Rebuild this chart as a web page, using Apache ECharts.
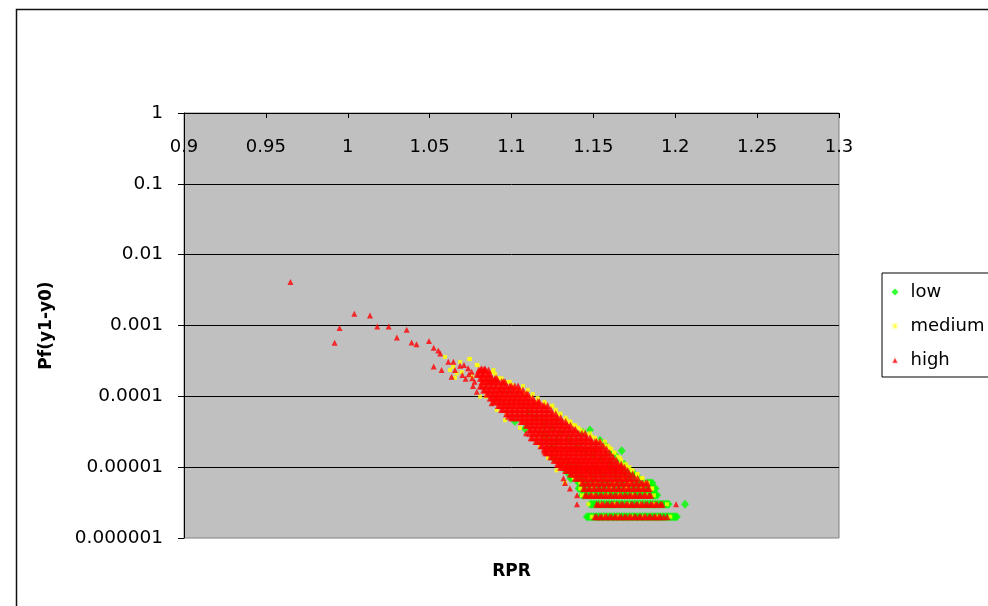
<!DOCTYPE html>
<html>
<head>
<meta charset="utf-8">
<script src="https://cdn.jsdelivr.net/npm/echarts@6/dist/echarts.min.js"></script>
<style>
  html, body { margin: 0; padding: 0; background: #fff; }
  #chart { width: 988px; height: 606px; }
</style>
</head>
<body>
<div id="chart"></div>
<script>
// Series names
const seriesNames = ['low', 'medium', 'high'];

// Tick labels
const xTickLabels = ['0.9', '0.95', '1', '1.05', '1.1', '1.15', '1.2', '1.25', '1.3'];
const yTickLabels = ['0.000001', '0.00001', '0.0001', '0.001', '0.01', '0.1', '1'];

// low: scattered points [RPR, Pf]
const lowPoints = [
  [1.1021, 4.4e-5], [1.1082, 3.5e-5], [1.1194, 3.0e-5], [1.1215, 2.6e-5], [1.1276, 2.4e-5],
  [1.1245, 1.95e-5], [1.1255, 1.35e-5], [1.1266, 1.85e-5], [1.1296, 1.2e-5], [1.1345, 1.1e-5],
  [1.1479, 3.35e-5], [1.1435, 3.1e-5], [1.154, 2.4e-5], [1.1571, 2.06e-5], [1.1602, 1.6e-5],
  [1.1632, 1.5e-5], [1.1673, 1.7e-5], [1.110, 6.0e-5], [1.115, 5.0e-5], [1.120, 4.0e-5],
  [1.125, 3.5e-5], [1.130, 3.0e-5], [1.135, 2.5e-5], [1.140, 2.0e-5], [1.145, 1.7e-5],
  [1.150, 1.5e-5], [1.155, 1.3e-5], [1.160, 1.2e-5], [1.140, 1.1e-5], [1.150, 1.0e-5],
  [1.160, 1.0e-5], [1.165, 1.2e-5], [1.1688, 1.1e-5]
];
// low: level rows [Pf, [RPR...]]
const lowRows = [
  [9e-6, [1.133, 1.140, 1.147, 1.154, 1.161, 1.167, 1.170, 1.172]],
  [8e-6, [1.135, 1.142, 1.149, 1.156, 1.163, 1.169, 1.172, 1.174, 1.175]],
  [7e-6, [1.136, 1.137, 1.139, 1.143, 1.150, 1.157, 1.164, 1.170, 1.173, 1.175, 1.176, 1.177, 1.178]],
  [6e-6, [1.141, 1.142, 1.143, 1.145, 1.148, 1.151, 1.154, 1.157, 1.160, 1.163, 1.166, 1.169, 1.172, 1.175, 1.178, 1.181, 1.183, 1.184, 1.185, 1.186]],
  [5e-6, [1.141, 1.142, 1.143, 1.145, 1.148, 1.151, 1.154, 1.157, 1.160, 1.163, 1.166, 1.169, 1.172, 1.175, 1.178, 1.181, 1.183, 1.184, 1.185, 1.186, 1.187, 1.188]],
  [4e-6, [1.143, 1.144, 1.145, 1.146, 1.147, 1.148, 1.149, 1.150, 1.151, 1.152, 1.153, 1.154, 1.155, 1.156, 1.157, 1.158,
          1.159, 1.160, 1.161, 1.162, 1.163, 1.164, 1.165, 1.166, 1.167, 1.168, 1.169, 1.170, 1.171, 1.172, 1.173, 1.174,
          1.175, 1.176, 1.177, 1.178, 1.179, 1.180, 1.181, 1.182, 1.183, 1.184, 1.185, 1.186, 1.187, 1.188, 1.189]],
  [3e-6, [1.148, 1.149, 1.150, 1.151, 1.152, 1.153, 1.154, 1.155, 1.156, 1.157, 1.158, 1.159, 1.160, 1.161, 1.162, 1.163,
          1.164, 1.165, 1.166, 1.167, 1.168, 1.169, 1.170, 1.171, 1.172, 1.173, 1.174, 1.175, 1.176, 1.177, 1.178, 1.179,
          1.180, 1.181, 1.182, 1.183, 1.184, 1.185, 1.186, 1.187, 1.188, 1.189, 1.190, 1.191, 1.192, 1.193, 1.194, 1.195,
          1.196, 1.206]],
  [2e-6, [1.146, 1.147, 1.148, 1.149, 1.150, 1.151, 1.152, 1.153, 1.154, 1.155, 1.156, 1.157, 1.158, 1.159, 1.160, 1.161,
          1.162, 1.163, 1.164, 1.165, 1.166, 1.167, 1.168, 1.169, 1.170, 1.171, 1.172, 1.173, 1.174, 1.175, 1.176, 1.177,
          1.178, 1.179, 1.180, 1.181, 1.182, 1.183, 1.184, 1.185, 1.186, 1.187, 1.188, 1.189, 1.190, 1.191, 1.192, 1.193,
          1.194, 1.195, 1.196, 1.197, 1.198, 1.199, 1.200, 1.201]]
];

// medium: scattered points
const mediumPoints = [
  [1.0594, 3.6e-4], [1.0643, 2.6e-4], [1.0665, 2.1e-4], [1.0696, 2.2e-4], [1.0747, 3.35e-4],
  [1.0794, 2.74e-4], [1.0757, 1.9e-4], [1.0808, 9.9e-5], [1.0844, 9.9e-5], [1.091, 6.4e-5],
  [1.0971, 5.5e-5], [1.1154, 2.4e-5], [1.0887, 2.2e-4], [1.0948, 1.6e-4], [1.0979, 1.6e-4],
  [1.1021, 1.3e-4], [1.1082, 1.12e-4], [1.1123, 9.9e-5], [1.1162, 8.4e-5], [1.1245, 7.2e-5],
  [1.1296, 5.5e-5], [1.1337, 4.6e-5], [1.1377, 3.95e-5], [1.1435, 3.2e-5], [1.149, 2.7e-5],
  [1.154, 2.3e-5], [1.1602, 1.85e-5], [1.165, 1.1e-5], [1.1681, 1.1e-5], [1.0686, 3.06e-4],
  [1.0742, 3.37e-4], [1.0788, 2.78e-4], [1.0624, 2.36e-4], [1.0655, 1.82e-4], [1.0856, 2.0e-4],
  [1.0918, 1.82e-4], [1.1003, 1.45e-4], [1.1052, 1.23e-4], [1.1205, 7.8e-5], [1.1272, 6.0e-5],
  [1.1357, 4.35e-5], [1.1406, 3.6e-5], [1.1461, 2.9e-5], [1.1516, 2.4e-5], [1.1571, 2.0e-5],
  [1.1626, 1.6e-5], [1.1663, 1.35e-5], [1.1706, 1.0e-5], [1.1731, 9e-6], [1.1767, 8e-6],
  [1.1797, 7e-6], [1.1834, 6e-6], [1.1858, 5e-6], [1.1275, 9e-6], [1.1327, 6e-6],
  [1.1223, 1.35e-5], [1.1174, 2.0e-5], [1.1052, 3.6e-5], [1.096, 4.6e-5],
  [1.089, 2.35e-4], [1.090, 2.05e-4], [1.094, 1.8e-4], [1.099, 1.6e-4], [1.107, 1.4e-4],
  [1.110, 1.23e-4], [1.113, 1.08e-4], [1.116, 9.5e-5], [1.120, 8.4e-5], [1.125, 7.4e-5],
  [1.127, 6.5e-5], [1.130, 5.7e-5], [1.133, 5.0e-5], [1.136, 4.4e-5], [1.139, 3.9e-5],
  [1.142, 3.4e-5], [1.148, 3.0e-5], [1.151, 2.6e-5], [1.157, 2.3e-5], [1.159, 2.0e-5],
  [1.161, 1.8e-5], [1.163, 1.6e-5], [1.165, 1.4e-5], [1.167, 1.25e-5], [1.170, 1.1e-5],
  [1.172, 1.0e-5], [1.174, 9e-6], [1.177, 8e-6], [1.180, 7e-6]
];
// medium: level rows
const mediumRows = [
  [7e-6, [1.138, 1.148, 1.158, 1.168, 1.177]],
  [6e-6, [1.142, 1.152, 1.162, 1.172, 1.182]],
  [5e-6, [1.142, 1.150, 1.160, 1.170, 1.180, 1.186]],
  [4e-6, [1.143, 1.150, 1.158, 1.166, 1.174, 1.182, 1.187]],
  [3e-6, [1.147, 1.155, 1.163, 1.171, 1.179, 1.187, 1.195]],
  [2e-6, [1.149, 1.157, 1.165, 1.173, 1.181, 1.189, 1.197]]
];

// high: scattered points
const highPoints = [
  [0.965, 0.0041], [0.992, 0.00057], [0.995, 0.00092], [1.004, 0.00146], [1.0136, 0.00138],
  [1.018, 0.00097], [1.025, 0.00097], [1.030, 0.000675], [1.036, 0.00087], [1.039, 0.000574],
  [1.042, 0.000545], [1.0496, 0.000606], [1.0525, 0.000487], [1.0553, 0.000442], [1.0565, 0.000401],
  [1.0525, 0.000263], [1.0573, 0.000236], [1.0614, 0.000309], [1.0645, 0.000309], [1.0634, 0.000189],
  [1.0655, 0.000236], [1.0686, 0.00027], [1.071, 0.000278], [1.072, 0.000177], [1.0757, 0.000222],
  [1.0818, 0.00025], [1.0838, 0.00025], [1.0826, 0.0002], [1.0869, 0.000161], [1.0788, 0.000116],
  [1.0879, 0.00008], [1.091, 0.000094], [1.090, 0.000172], [1.093, 0.000123], [1.1089, 0.00003],
  [1.120, 0.0000166], [1.1296, 0.0000107], [1.098, 0.0000517], [1.1357, 0.000005], [1.140, 0.000003],
  [1.1317, 0.000007], [1.2005, 0.000003], [1.140, 0.000004], [1.1327, 0.000006],
  [1.074, 0.000205], [1.076, 0.00018], [1.0775, 0.00016], [1.0765, 0.00014], [1.070, 0.0002],
  [1.0735, 0.00025]
];
// high: level rows
const highRows = [
  [2.35e-4, [1.080, 1.081, 1.083, 1.084, 1.086]],
  [2.05e-4, [1.079, 1.080, 1.082, 1.083, 1.085, 1.086, 1.087]],
  [1.8e-4, [1.081, 1.082, 1.084, 1.085, 1.087, 1.088, 1.090, 1.091]],
  [1.6e-4, [1.082, 1.083, 1.085, 1.086, 1.088, 1.089, 1.091, 1.092, 1.094, 1.095, 1.096]],
  [1.4e-4, [1.081, 1.082, 1.084, 1.085, 1.087, 1.088, 1.090, 1.091, 1.093, 1.094, 1.096, 1.097, 1.099, 1.100, 1.102, 1.104]],
  [1.23e-4, [1.083, 1.084, 1.086, 1.087, 1.089, 1.090, 1.092, 1.093, 1.095, 1.096, 1.098, 1.099, 1.101, 1.102, 1.104, 1.105, 1.107]],
  [1.08e-4, [1.085, 1.086, 1.088, 1.089, 1.091, 1.092, 1.094, 1.095, 1.097, 1.098, 1.100, 1.101, 1.103, 1.104, 1.106, 1.107, 1.109, 1.110]],
  [9.5e-5, [1.087, 1.088, 1.090, 1.091, 1.093, 1.094, 1.096, 1.097, 1.099, 1.100, 1.102, 1.103, 1.105, 1.106, 1.108, 1.109, 1.111, 1.113]],
  [8.4e-5, [1.089, 1.090, 1.092, 1.093, 1.095, 1.096, 1.098, 1.099, 1.101, 1.102, 1.104, 1.105, 1.107, 1.108, 1.110, 1.111, 1.113, 1.114, 1.116, 1.117]],
  [7.4e-5, [1.092, 1.093, 1.095, 1.096, 1.098, 1.099, 1.101, 1.102, 1.104, 1.105, 1.107, 1.108, 1.110, 1.111, 1.113, 1.114, 1.116, 1.117, 1.119, 1.120, 1.122]],
  [6.5e-5, [1.094, 1.095, 1.097, 1.098, 1.100, 1.101, 1.103, 1.104, 1.106, 1.107, 1.109, 1.110, 1.112, 1.113, 1.115, 1.116, 1.118, 1.119, 1.121, 1.122, 1.124]],
  [5.7e-5, [1.097, 1.098, 1.100, 1.101, 1.103, 1.104, 1.106, 1.107, 1.109, 1.110, 1.112, 1.113, 1.115, 1.116, 1.118, 1.119, 1.121, 1.122, 1.124, 1.125, 1.127]],
  [5.0e-5, [1.100, 1.101, 1.103, 1.104, 1.106, 1.107, 1.109, 1.110, 1.112, 1.113, 1.115, 1.116, 1.118, 1.119, 1.121, 1.122, 1.124, 1.125, 1.127, 1.128, 1.130]],
  [4.4e-5, [1.106, 1.107, 1.109, 1.110, 1.112, 1.113, 1.115, 1.116, 1.118, 1.119, 1.121, 1.122, 1.124, 1.125, 1.127, 1.128, 1.130, 1.131, 1.133]],
  [3.9e-5, [1.109, 1.110, 1.112, 1.113, 1.115, 1.116, 1.118, 1.119, 1.121, 1.122, 1.124, 1.125, 1.127, 1.128, 1.130, 1.131, 1.133, 1.134, 1.136]],
  [3.4e-5, [1.111, 1.112, 1.114, 1.115, 1.117, 1.118, 1.120, 1.121, 1.123, 1.124, 1.126, 1.127, 1.129, 1.130, 1.132, 1.133, 1.135, 1.136, 1.138, 1.139]],
  [3.0e-5, [1.111, 1.113, 1.114, 1.116, 1.117, 1.119, 1.120, 1.122, 1.123, 1.125, 1.126, 1.128, 1.129, 1.131, 1.132, 1.134, 1.135, 1.137, 1.138, 1.140, 1.141, 1.143, 1.145]],
  [2.6e-5, [1.112, 1.113, 1.115, 1.116, 1.118, 1.119, 1.121, 1.122, 1.124, 1.125, 1.127, 1.128, 1.130, 1.131, 1.133, 1.134, 1.136, 1.137, 1.139, 1.140, 1.142, 1.143, 1.145, 1.146, 1.148]],
  [2.3e-5, [1.115, 1.116, 1.118, 1.119, 1.121, 1.122, 1.124, 1.125, 1.127, 1.128, 1.130, 1.131, 1.133, 1.134, 1.136, 1.137, 1.139, 1.140, 1.142, 1.143, 1.145, 1.146, 1.148, 1.149, 1.151, 1.152, 1.154]],
  [2.0e-5, [1.118, 1.119, 1.121, 1.122, 1.124, 1.125, 1.127, 1.128, 1.130, 1.131, 1.133, 1.134, 1.136, 1.137, 1.139, 1.140, 1.142, 1.143, 1.145, 1.146, 1.148, 1.149, 1.151, 1.152, 1.154, 1.156]],
  [1.8e-5, [1.120, 1.121, 1.123, 1.124, 1.126, 1.127, 1.129, 1.130, 1.132, 1.133, 1.135, 1.136, 1.138, 1.139, 1.141, 1.142, 1.144, 1.145, 1.147, 1.148, 1.150, 1.151, 1.153, 1.154, 1.156, 1.158]],
  [1.6e-5, [1.121, 1.122, 1.124, 1.125, 1.127, 1.128, 1.130, 1.131, 1.133, 1.134, 1.136, 1.137, 1.139, 1.140, 1.142, 1.143, 1.145, 1.146, 1.148, 1.149, 1.151, 1.152, 1.154, 1.155, 1.157, 1.158, 1.160]],
  [1.4e-5, [1.124, 1.125, 1.127, 1.128, 1.130, 1.131, 1.133, 1.134, 1.136, 1.137, 1.139, 1.140, 1.142, 1.143, 1.145, 1.146, 1.148, 1.149, 1.151, 1.152, 1.154, 1.155, 1.157, 1.158, 1.160, 1.162]],
  [1.25e-5, [1.126, 1.127, 1.129, 1.130, 1.132, 1.133, 1.135, 1.136, 1.138, 1.139, 1.141, 1.142, 1.144, 1.145, 1.147, 1.148, 1.150, 1.151, 1.153, 1.154, 1.156, 1.157, 1.159, 1.160, 1.162, 1.164]],
  [1.1e-5, [1.128, 1.129, 1.131, 1.132, 1.134, 1.135, 1.137, 1.138, 1.140, 1.141, 1.143, 1.144, 1.146, 1.147, 1.149, 1.150, 1.152, 1.153, 1.155, 1.156, 1.158, 1.159, 1.161, 1.162, 1.164, 1.165, 1.167]],
  [1.0e-5, [1.130, 1.131, 1.133, 1.134, 1.136, 1.137, 1.139, 1.140, 1.142, 1.143, 1.145, 1.146, 1.148, 1.149, 1.151, 1.152, 1.154, 1.155, 1.157, 1.158, 1.160, 1.161, 1.163, 1.164, 1.166, 1.167, 1.169]],
  [9e-6, [1.133, 1.134, 1.136, 1.137, 1.139, 1.140, 1.142, 1.143, 1.145, 1.146, 1.148, 1.149, 1.151, 1.152, 1.154, 1.155, 1.157, 1.158, 1.160, 1.161, 1.163, 1.164, 1.166, 1.167, 1.169, 1.171]],
  [8e-6, [1.136, 1.137, 1.139, 1.140, 1.142, 1.143, 1.145, 1.146, 1.148, 1.149, 1.151, 1.152, 1.154, 1.155, 1.157, 1.158, 1.160, 1.161, 1.163, 1.164, 1.166, 1.167, 1.169, 1.170, 1.172, 1.174]],
  [7e-6, [1.139, 1.140, 1.142, 1.143, 1.145, 1.146, 1.148, 1.149, 1.151, 1.152, 1.154, 1.155, 1.157, 1.158, 1.160, 1.161, 1.163, 1.164, 1.166, 1.167, 1.169, 1.170, 1.172, 1.173, 1.175, 1.177]],
  [6e-6, [1.143, 1.144, 1.146, 1.147, 1.149, 1.150, 1.152, 1.153, 1.155, 1.156, 1.158, 1.159, 1.161, 1.162, 1.164, 1.165, 1.167, 1.168, 1.170, 1.171, 1.173, 1.174, 1.176, 1.177, 1.179, 1.180, 1.182, 1.183]],
  [5e-6, [1.144, 1.145, 1.147, 1.148, 1.150, 1.151, 1.153, 1.154, 1.156, 1.157, 1.159, 1.160, 1.162, 1.163, 1.165, 1.166, 1.168, 1.169, 1.171, 1.172, 1.174, 1.175, 1.177, 1.178, 1.180, 1.181, 1.183, 1.184]],
  [4e-6, [1.145, 1.146, 1.148, 1.149, 1.151, 1.152, 1.154, 1.155, 1.157, 1.158, 1.160, 1.161, 1.163, 1.164, 1.166, 1.167, 1.169, 1.170, 1.172, 1.173, 1.175, 1.176, 1.178, 1.179, 1.181, 1.182, 1.184, 1.185]],
  [3e-6, [1.152, 1.153, 1.155, 1.156, 1.158, 1.159, 1.161, 1.162, 1.164, 1.165, 1.167, 1.168, 1.170, 1.171, 1.173, 1.174, 1.176, 1.177, 1.179, 1.180, 1.182, 1.183, 1.185, 1.186, 1.188, 1.189, 1.191, 1.192]],
  [2e-6, [1.151, 1.152, 1.154, 1.155, 1.157, 1.158, 1.160, 1.161, 1.163, 1.164, 1.166, 1.167, 1.169, 1.170, 1.172, 1.173, 1.175, 1.176, 1.178, 1.179, 1.181, 1.182, 1.184, 1.185, 1.187, 1.188, 1.190, 1.191, 1.193, 1.195]]
];

// Expand a level row into [x, y] pairs
function rowsToPairs(rows) {
  const out = [];
  rows.forEach(([y, xs]) => xs.forEach(x => out.push([x, y])));
  return out;
}

const FONT = 'DejaVu Sans';
const highData = highPoints.concat(rowsToPairs(highRows));

const chart = echarts.init(document.getElementById('chart'), null, { renderer: 'canvas' });

chart.setOption({
  animation: false,
  backgroundColor: '#ffffff',
  textStyle: { fontFamily: FONT, color: '#000' },
  grid: {
    left: 184, top: 113, width: 655, height: 425,
    show: true, backgroundColor: '#C0C0C0',
    borderColor: '#808080', borderWidth: 1
  },
  graphic: [{
    type: 'rect', silent: true, z: -1,
    shape: { x: 16.5, y: 9.5, width: 1200, height: 900 },
    style: { fill: 'none', stroke: '#111', lineWidth: 1.5 }
  }],
  legend: {
    orient: 'vertical', left: 882, top: 273,
    padding: [9, 8, 7, 7.5], itemGap: 14,
    itemWidth: 7, itemHeight: 7,
    borderColor: '#000', borderWidth: 1, backgroundColor: '#fff',
    textStyle: { fontFamily: FONT, fontSize: 18, color: '#000', lineHeight: 20, padding: [0, 0, 0, 7] },
    data: [
      { name: 'low' },
      { name: 'medium', itemStyle: { borderColor: '#fff', borderWidth: 4 } },
      { name: 'high', itemStyle: { borderColor: '#fff', borderWidth: 1.5 } }
    ]
  },
  xAxis: [{
    type: 'value', min: 0.9, max: 1.3, interval: 0.05, position: 'top',
    axisLine: { show: true, onZero: false, lineStyle: { color: '#000', width: 1 } },
    axisTick: { show: true, inside: true, length: 5, lineStyle: { color: '#000' } },
    axisLabel: {
      inside: true, margin: 25, color: '#000', fontFamily: FONT, fontSize: 18,
      formatter: v => xTickLabels[Math.round((v - 0.9) / 0.05)]
    },
    splitLine: { show: false }
  }, {
    type: 'value', min: 0.9, max: 1.3, position: 'bottom',
    name: 'RPR', nameLocation: 'middle', nameGap: 25,
    nameTextStyle: { fontFamily: FONT, fontWeight: 'bold', fontSize: 17, color: '#000' },
    axisLine: { show: false }, axisTick: { show: false },
    axisLabel: { show: false }, splitLine: { show: false }
  }],
  yAxis: {
    type: 'log', logBase: 10, min: 1e-6, max: 1, splitNumber: 6,
    name: 'Pf(y1-y0)', nameLocation: 'middle', nameGap: 129, nameRotate: 90,
    nameTextStyle: { fontFamily: FONT, fontWeight: 'bold', fontSize: 17, color: '#000' },
    axisLine: { show: true, onZero: false, lineStyle: { color: '#000', width: 1 } },
    axisTick: { show: true, inside: false, length: 6, lineStyle: { color: '#000' } },
    axisLabel: {
      margin: 21, color: '#000', fontFamily: FONT, fontSize: 18.5,
      formatter: v => yTickLabels[Math.round(Math.log10(v)) + 6]
    },
    splitLine: { show: true, showMinLine: false, lineStyle: { color: '#000', width: 1 } }
  },
  series: [{
    name: 'low', type: 'scatter', xAxisIndex: 0,
    symbol: 'diamond', symbolSize: [8, 9],
    itemStyle: { color: '#00FF00' },
    data: lowPoints.concat(rowsToPairs(lowRows))
  }, {
    name: 'medium', type: 'scatter', xAxisIndex: 0,
    symbol: 'rect', symbolSize: 4,
    itemStyle: { color: '#FFFF00' },
    data: mediumPoints.concat(rowsToPairs(mediumRows))
  }, {
    name: 'high', type: 'scatter', xAxisIndex: 0,
    symbol: 'triangle',
    // isolated markers slightly smaller than the packed ones
    symbolSize: (val, params) => params.dataIndex < highPoints.length ? [6, 6] : [7, 7],
    itemStyle: { color: '#FF0000' },
    data: highData
  }]
});
</script>
</body>
</html>
